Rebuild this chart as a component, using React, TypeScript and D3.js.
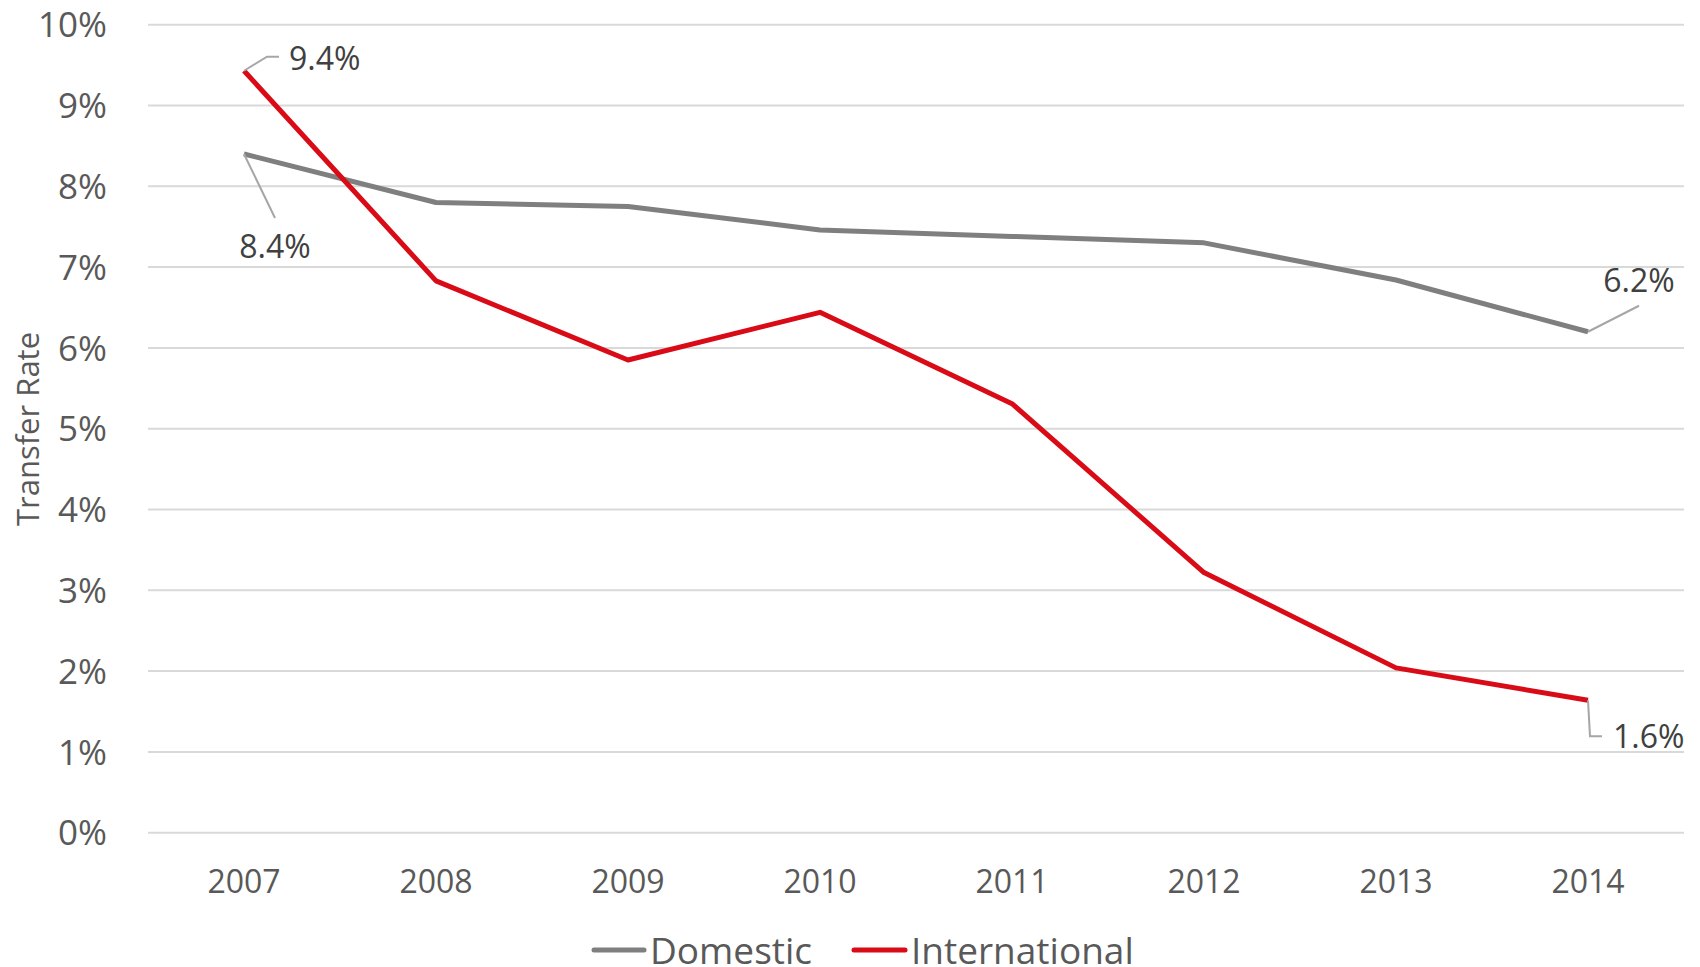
import {useMemo} from 'react';
import * as d3 from 'd3';

const years = ['2007', '2008', '2009', '2010', '2011', '2012', '2013', '2014'];
const domestic = [8.4, 7.8, 7.75, 7.46, 7.38, 7.3, 6.84, 6.2];
const international = [9.43, 6.83, 5.85, 6.44, 5.31, 3.22, 2.04, 1.64];
const yTicks = [0, 1, 2, 3, 4, 5, 6, 7, 8, 9, 10];

const W = 1700, H = 967;
const FONT = '"Open Sans", "Noto Sans", sans-serif';
const GRAY = '#7f7f7f', RED = '#d90b16';

function App(){
	const x = useMemo(()=> d3.scaleBand<string>().domain(years).range([148, 1684]), [])
		, y = useMemo(()=> d3.scaleLinear().domain([0, 10]).range([832.7, 24.7]), [])
		, cx = (i: number)=> (x(years[i]) as number) + x.bandwidth() /2
		, line = d3.line<number>().x((d, i)=> cx(i)).y((d)=> y(d))
		;

	// point index, value, leader path offsets (from point), label offset
	const last = years.length -1
		, notes = [
			{i: 0, v: international[0], leader: [[0, 0], [23, -14], [35, -14]], lx: 45, ly: -12, anchor: 'start'}
			, {i: 0, v: domestic[0], leader: [[0, 0], [31, 64]], lx: 31, ly: 92, anchor: 'middle'}
			, {i: last, v: domestic[last], leader: [[0, 0], [51, -26]], lx: 51, ly: -51, anchor: 'middle'}
			, {i: last, v: international[last], leader: [[0, 0], [2, 36], [14, 36]], lx: 25, ly: 36, anchor: 'start'}
		];

	return (<svg width={W} height={H} style={{position: 'absolute', left: 0, top: 0, background: '#fff'}}>
		{yTicks.map((t)=>(<g key={t}>
			<line x1={148} x2={1684} y1={y(t)} y2={y(t)} stroke="#d9d9d9" strokeWidth={2}/>
			<text x={107} y={y(t)} dy="0.36em" textAnchor="end" fontFamily={FONT} fontSize={35} fill="#595959">{t}%</text>
		</g>))}
		{years.map((yr, i)=>(<text key={yr} x={cx(i)} y={881} dy="0.36em" textAnchor="middle" fontFamily={FONT} fontSize={32} fill="#595959">{yr}</text>))}
		<text transform="translate(28,429) rotate(-90)" dy="0.36em" textAnchor="middle" fontFamily={FONT} fontSize={31} fill="#595959">Transfer Rate</text>

		<path d={line(domestic) || ''} fill="none" stroke={GRAY} strokeWidth={5} strokeLinejoin="round"/>
		<path d={line(international) || ''} fill="none" stroke={RED} strokeWidth={5} strokeLinejoin="round"/>

		{notes.map((n, k)=>{
			const px = cx(n.i), py = y(n.v);
			return (<g key={k}>
				<polyline points={n.leader.map((p)=> `${px + p[0]},${py + p[1]}`).join(' ')} fill="none" stroke="#a6a6a6" strokeWidth={2}/>
				<text x={px + n.lx} y={py + n.ly} dy="0.36em" textAnchor={n.anchor as any} fontFamily={FONT} fontSize={32} fill="#404040">{n.v.toFixed(1)}%</text>
			</g>);
		})}

		<line x1={594} x2={644} y1={950} y2={950} stroke={GRAY} strokeWidth={5} strokeLinecap="round"/>
		<text x={650} y={951} dy="0.36em" fontFamily={FONT} fontSize={37} fill="#595959">Domestic</text>
		<line x1={854} x2={905} y1={950} y2={950} stroke={RED} strokeWidth={5} strokeLinecap="round"/>
		<text x={911} y={951} dy="0.36em" fontFamily={FONT} fontSize={37} fill="#595959">International</text>
	</svg>);
}

export default App;
